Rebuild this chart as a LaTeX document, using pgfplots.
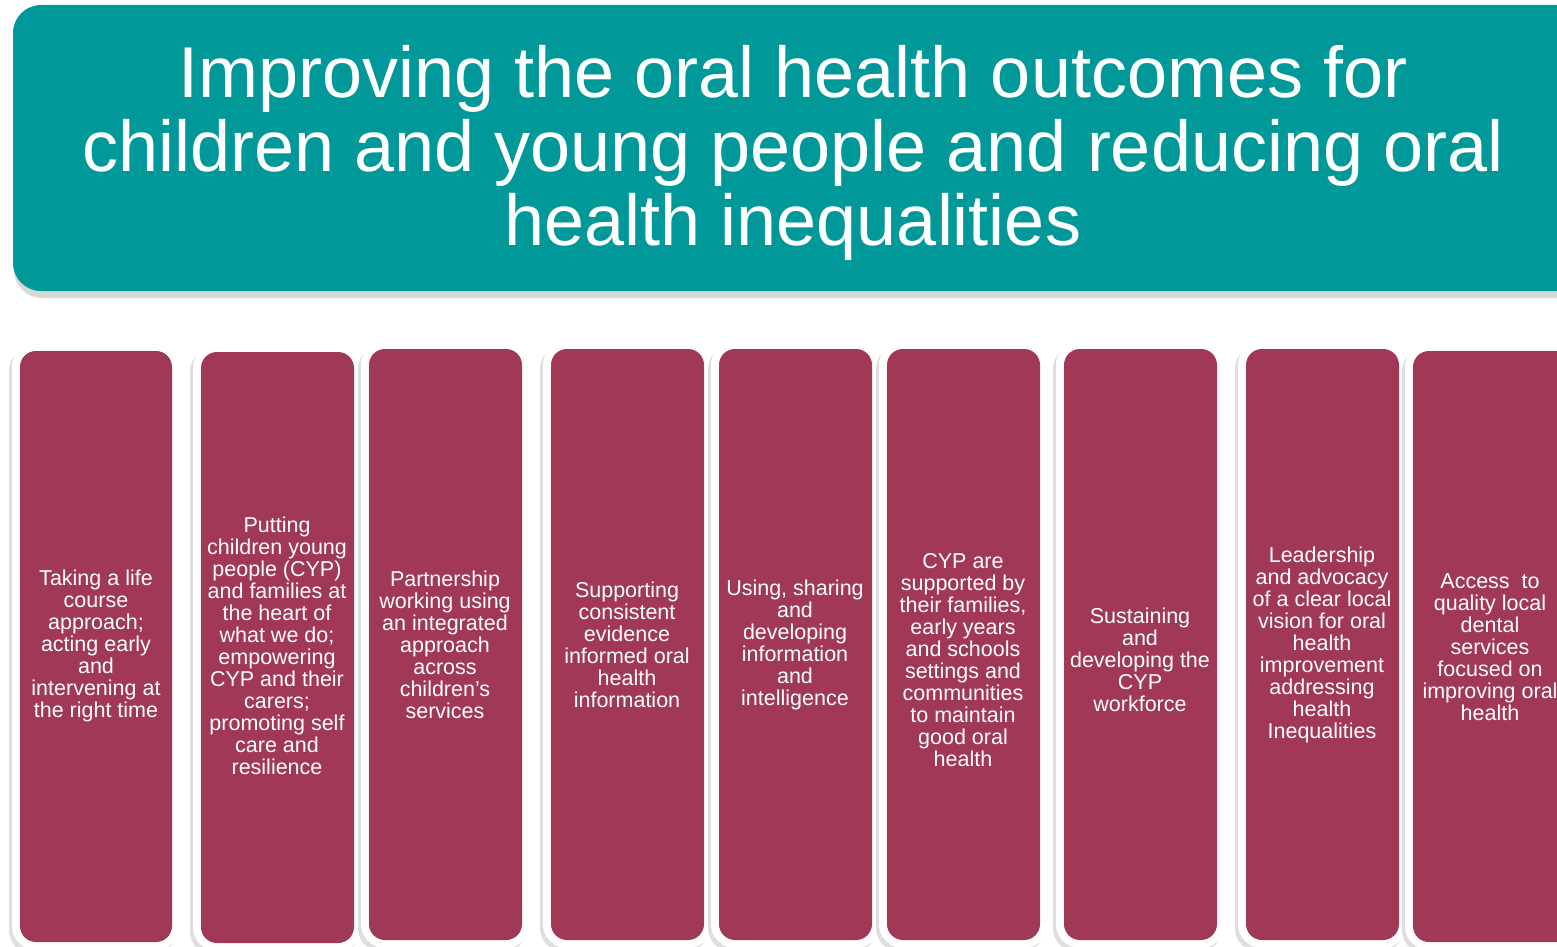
\documentclass[border=0pt]{standalone}
\usepackage{pgfplots}
\pgfplotsset{compat=1.18}
\usepackage{fontspec}
\setmainfont{Liberation Sans}
\definecolor{tealbox}{RGB}{0,152,152}
\definecolor{wine}{RGB}{160,56,86}
\definecolor{shade}{RGB}{200,200,200}

% one column: inner x0 x1 y0 y1, text centre x y, text
\newcommand\pillar[7]{%
  \addplot[fill=shade, draw=shade, line width=8bp, rounded corners=8bp, xshift=-1.5bp, yshift=-2bp, opacity=0.6]
    coordinates {(#1,#3) (#2,#3) (#2,#4) (#1,#4)} --cycle;
  \addplot[fill=white, draw=white, line width=8bp, rounded corners=8bp]
    coordinates {(#1,#3) (#2,#3) (#2,#4) (#1,#4)} --cycle;
  \addplot[fill=wine, draw=none, rounded corners=8bp]
    coordinates {(#1,#3) (#2,#3) (#2,#4) (#1,#4)} --cycle;
  \node[text=white, align=center, font=\fontsize{10.75bp}{11bp}\selectfont] at (axis cs:#5,#6) {#7};
}

\begin{document}
\begin{tikzpicture}
\begin{axis}[
  at={(0,0)}, anchor=south west,
  scale only axis, width=778.5bp, height=473.5bp,
  xmin=0, xmax=1557, ymin=0, ymax=947, y dir=reverse,
  axis lines=none, clip=true,
]
% title banner
\addplot[fill=shade, draw=none, rounded corners=14bp, yshift=-3bp, opacity=0.7]
  coordinates {(14,5) (1620,5) (1620,292) (14,292)} --cycle;
\addplot[fill=tealbox, draw=none, rounded corners=14bp]
  coordinates {(13,5) (1620,5) (1620,291) (13,291)} --cycle;
\node[anchor=base, text=white, font=\fontsize{36bp}{37bp}\selectfont] at (axis cs:793,98) {Improving the oral health outcomes for};
\node[anchor=base, text=white, font=\fontsize{36bp}{37bp}\selectfont] at (axis cs:793,172) {children and young people and reducing oral};
\node[anchor=base, text=white, font=\fontsize{36bp}{37bp}\selectfont] at (axis cs:793,245) {health inequalities};

\pillar{20}{172}{351}{942}{96}{646}{Taking a life\\course\\approach;\\acting early\\and\\intervening at\\the right time}
\pillar{201}{354}{352}{943}{277}{646}{Putting\\children young\\people (CYP)\\and families at\\the heart of\\what we do;\\empowering\\CYP and their\\carers;\\promoting self\\care and\\resilience}
\pillar{369}{522}{349}{940}{445}{645}{Partnership\\working using\\an integrated\\approach\\across\\children’s\\services}
\pillar{551}{704}{349}{940}{627}{645}{Supporting\\consistent\\evidence\\informed oral\\health\\information}
\pillar{719}{872}{349}{940}{795}{645}{Using, sharing\\and\\developing\\information\\and\\intelligence}
\pillar{887}{1040}{349}{940}{963}{660}{CYP are\\supported by\\their families,\\early years\\and schools\\settings and\\communities\\to maintain\\good oral\\health}
\pillar{1064}{1217}{349}{940}{1140}{660}{Sustaining\\and\\developing the\\CYP\\workforce}
\pillar{1246}{1399}{349}{940}{1322}{645}{Leadership\\and advocacy\\of a clear local\\vision for oral\\health\\improvement\\addressing\\health\\Inequalities}
\pillar{1413}{1620}{351}{942}{1490}{647}{Access\ \ to\\quality local\\dental\\services\\focused on\\improving oral\\health}
\end{axis}
\pgfresetboundingbox
\path[use as bounding box] (0,0) rectangle (778.5bp,473.5bp);
\end{tikzpicture}
\end{document}
